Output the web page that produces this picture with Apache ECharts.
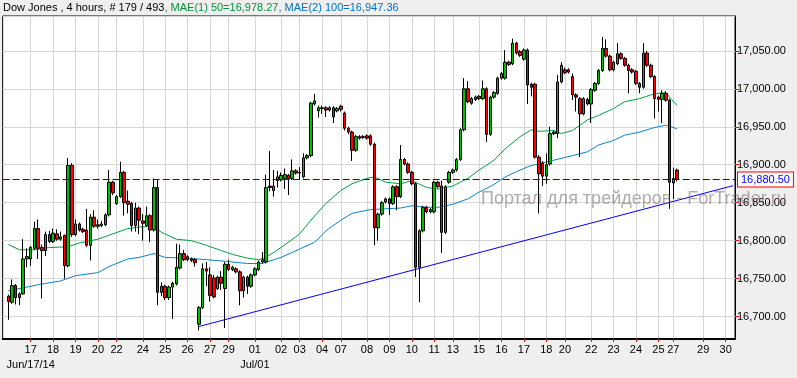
<!DOCTYPE html>
<html><head><meta charset="utf-8">
<script src="https://cdn.jsdelivr.net/npm/echarts@6/dist/echarts.min.js"></script>
<style>html,body{margin:0;padding:0;background:#efefef}#c{width:797px;height:378px}</style>
</head><body><div id="c"></div>
<script>
// ---- data ----
const instrument = 'Dow Jones , 4 hours, # 179 / 493';
const ma1Label = 'MAE(1) 50';
const ma1Last = 16978.27;
const ma2Label = 'MAE(2) 100';
const ma2Last = 16947.36;
const watermark = 'Портал для трейдеров - ForTrader.ru';
const slotCount = 196;
const firstBarSlot = 1;

const opens = [16727,16719,16741,16725,16730,16776,16776,16790,16816,16791,16787,16808,16799,16809,16802,16807,16767,16899,16808,16822,16815,16814,16794,16831,16819,16820,16821,16834,16877,16849,16858,16890,16852,16849,16820,16843,16826,16820,16833,16814,16870,16732,16740,16725,16739,16743,16764,16783,16779,16776,16775,16690,16712,16763,16755,16751,16737,16752,16737,16769,16762,16763,16759,16734,16752,16740,16755,16762,16772,16772,16872,16866,16879,16880,16882,16886,16882,16892,16889,16884,16909,16912,16980,16971,16974,16975,16972,16975,16971,16977,16968,16948,16943,16919,16937,16936,16938,16938,16927,16817,16835,16851,16855,16849,16871,16858,16907,16901,16890,16875,16765,16813,16844,16838,16838,16877,16872,16811,16877,16890,16893,16907,16946,17000,16981,16986,16990,16987,17000,16940,16989,16994,17014,17014,17035,17033,17060,17049,17039,17051,17006,17006,16910,16902,16885,16901,16941,16941,17009,17025,17025,17016,16992,16987,16967,16986,16980,16998,17007,17024,17053,17043,17025,17033,17046,17040,17031,17025,17023,17007,17002,17047,17031,17016,16989,16986,16994,16985,16876,16893];
const closes = [16720,16741,16725,16730,16776,16779,16791,16816,16790,16787,16808,16799,16810,16802,16805,16767,16899,16808,16822,16814,16812,16794,16831,16819,16821,16822,16834,16877,16863,16858,16890,16850,16848,16820,16843,16827,16823,16833,16814,16870,16732,16740,16725,16739,16744,16765,16783,16775,16775,16774,16771,16712,16763,16760,16728,16726,16752,16744,16769,16762,16765,16759,16734,16752,16740,16755,16763,16772,16775,16870,16870,16872,16884,16886,16887,16882,16892,16889,16890,16909,16912,16981,16984,16975,16975,16972,16975,16963,16974,16973,16948,16943,16919,16937,16935,16937,16935,16927,16817,16835,16850,16855,16849,16871,16858,16907,16901,16890,16875,16765,16813,16844,16838,16841,16877,16871,16811,16871,16890,16893,16907,16946,17000,16983,16987,16989,16987,17000,16940,16989,16995,17014,17020,17035,17032,17060,17047,17044,17051,17005,17002,16910,16888,16885,16900,16941,16943,17009,17031,17021,17022,16992,16989,16967,16987,16980,16999,17007,17024,17053,17043,17025,17035,17046,17040,17031,17024,17022,17007,17002,17047,17031,17016,16987,16986,16994,16985,16877,16882,16880.5];
const lows = [16696,16717,16716,16715,16729,16765,16767,16788,16776,16724,16780,16797,16797,16800,16800,16750,16765,16805,16806,16812,16810,16792,16774,16817,16816,16818,16819,16832,16860,16847,16856,16833,16836,16812,16812,16809,16800,16818,16798,16812,16715,16727,16722,16722,16697,16741,16762,16773,16773,16772,16766,16682,16710,16740,16720,16724,16735,16735,16685,16760,16760,16757,16715,16725,16730,16738,16753,16760,16770,16770,16865,16858,16870,16878,16868,16860,16880,16887,16880,16882,16907,16910,16978,16962,16967,16963,16970,16955,16969,16970,16945,16940,16905,16917,16933,16934,16933,16925,16794,16800,16833,16849,16834,16847,16840,16856,16899,16888,16873,16752,16719,16811,16836,16836,16836,16869,16784,16809,16875,16888,16891,16905,16944,16981,16979,16984,16985,16985,16930,16938,16987,16992,17012,17012,17030,17031,17045,17042,17037,16980,16990,16908,16836,16872,16875,16899,16939,16935,17007,17019,17020,16985,16970,16910,16965,16978,16955,16996,17005,17022,17041,17023,17023,17031,17038,17029,16994,17020,17005,16994,17000,17029,17014,16961,16970,16955,16983,16842,16855,16878];
const highs = [16729,16749,16743,16732,16802,16790,16793,16825,16828,16795,16812,16813,16816,16815,16812,16808,16909,16902,16828,16824,16817,16842,16835,16840,16828,16826,16836,16893,16879,16860,16904,16892,16866,16851,16850,16845,16835,16845,16835,16882,16880,16745,16742,16741,16746,16796,16795,16788,16781,16778,16777,16714,16770,16772,16765,16755,16754,16760,16772,16775,16767,16765,16761,16754,16754,16757,16765,16774,16785,16887,16918,16893,16892,16890,16895,16888,16907,16894,16897,16915,16914,16983,16993,16978,16978,16977,16977,16977,16976,16979,16970,16950,16945,16939,16939,16939,16940,16940,16929,16837,16852,16857,16857,16873,16873,16926,16909,16903,16892,16877,16815,16846,16846,16843,16879,16879,16879,16873,16892,16895,16909,16948,17014,17010,16989,16991,16992,17011,17002,16991,16997,17016,17022,17051,17037,17066,17062,17051,17053,17053,17008,17008,16913,16905,16915,16950,16945,17018,17035,17028,17027,17020,16994,16989,16989,16988,17001,17009,17026,17068,17065,17045,17037,17060,17048,17042,17033,17027,17025,17009,17060,17050,17033,17018,16991,16998,16997,16987,16896,16895];

const ma50 = [[1,16795],[4,16788],[8,16788],[12,16791],[17,16792],[20,16797],[25,16802],[29,16809],[33,16816],[36,16818],[40,16819],[42,16811],[46,16802],[50,16800],[54,16794],[58,16787],[61,16782],[65,16777],[68,16775],[70,16778],[74,16791],[79,16809],[82,16827],[86,16849],[90,16866],[93,16875],[97,16882],[99,16884],[102,16877],[106,16875],[109,16879],[113,16870],[116,16868],[120,16872],[124,16882],[127,16893],[131,16906],[134,16921],[138,16937],[141,16946],[143,16944],[147,16945],[149,16941],[152,16945],[156,16959],[159,16965],[163,16974],[166,16983],[170,16987],[173,16992],[175,16994],[177,16995],[178,16989],[180,16978]];
const ma100 = [[1,16734],[6,16739],[10,16743],[15,16747],[19,16754],[25,16758],[28,16766],[33,16776],[36,16778],[40,16783],[43,16778],[49,16777],[54,16775],[59,16773],[65,16770],[69,16770],[74,16778],[79,16789],[83,16798],[86,16813],[90,16827],[93,16836],[98,16841],[102,16842],[106,16843],[109,16846],[113,16844],[116,16844],[120,16848],[124,16855],[127,16864],[131,16874],[134,16884],[138,16893],[141,16899],[143,16901],[147,16906],[152,16912],[156,16917],[159,16926],[163,16932],[166,16939],[170,16943],[174,16949],[177,16952],[178,16951],[180,16947]];
const trendLine = [[52,16687],[195,16872.5]];

const dayTickIndex = [7,13,19,25,30,37,43,49,55,60,67,74,79,85,90,97,103,109,115,120,127,133,139,145,150,157,163,169,175,179,187,193];
const dayTickLabel = ['17','18','19','20','22','24','25','26','27','29','01','02','03','04','07','08','09','10','11','13','15','16','17','18','20','22','23','24','25','27','29','30'];
const monthTickIndex = [7,67];
const monthTickLabel = ['Jun/17/14','Jul/01'];

// ---- build ----
const categories = new Array(slotCount).fill('');
categories[0] = ' '; // invisible spacer label so that the first real label is not treated as the axis min label
dayTickIndex.forEach((idx, k) => { categories[idx] = dayTickLabel[k]; });
const monthCategories = new Array(slotCount).fill('');
monthTickIndex.forEach((idx, k) => { monthCategories[idx] = monthTickLabel[k]; });

const candleData = [];
for (let i = 0; i < firstBarSlot; i++) candleData.push('-');
for (let i = 0; i < opens.length; i++) candleData.push([opens[i], closes[i], lows[i], highs[i]]);
const lastClose = closes[closes.length - 1];

const fmt = v => v.toLocaleString('en-US', {minimumFractionDigits: 2, maximumFractionDigits: 2});
const hasLabel = (i, v) => v !== '';
const isTick = (i, v) => v.trim() !== '';
const FONT = '"Liberation Sans", Arial, sans-serif';

const chart = echarts.init(document.getElementById('c'), null, {renderer: 'canvas'});
chart.setOption({
  animation: false,
  backgroundColor: '#efefef',
  textStyle: {fontFamily: FONT},
  grid: {left: 2, top: 16, width: 733, height: 323, show: true, backgroundColor: '#ffffff', borderColor: '#000', borderWidth: 1},
  xAxis: [{
    type: 'category', data: categories, boundaryGap: true,
    axisLine: {show: true, lineStyle: {color: '#000', width: 2}},
    axisTick: {show: true, interval: isTick, alignWithLabel: true, length: 3, lineStyle: {color: '#ff0000'}},
    axisLabel: {interval: hasLabel, color: '#000', fontSize: 11, lineHeight: 12, fontFamily: FONT, margin: 5,
      showMinLabel: true, showMaxLabel: true, hideOverlap: false},
    splitLine: {show: true, interval: isTick, alignWithLabel: true, lineStyle: {color: '#d6d6d6', width: 1}}
  }, {
    type: 'category', data: monthCategories, boundaryGap: true, position: 'bottom', gridIndex: 0,
    axisLine: {show: false}, axisTick: {show: false}, splitLine: {show: false},
    axisLabel: {interval: hasLabel, color: '#000', fontSize: 11, lineHeight: 12, fontFamily: FONT, margin: 20,
      showMinLabel: true, showMaxLabel: true, hideOverlap: false}
  }],
  yAxis: {
    type: 'value', position: 'right', scale: true,
    min: 16670.6, max: 17095.8, minInterval: 50, maxInterval: 50,
    axisLine: {show: true, lineStyle: {color: '#000', width: 1}},
    axisTick: {show: true, length: 4, lineStyle: {color: '#ff0000'}},
    axisLabel: {color: '#000', fontSize: 11, fontFamily: FONT, margin: 2, showMinLabel: false, showMaxLabel: false, formatter: fmt},
    splitLine: {show: true, lineStyle: {color: '#d6d6d6', width: 1}}
  },
  series: [
    {type: 'line', data: ma50, showSymbol: false, symbol: 'none', lineStyle: {color: '#00a040', width: 1}, z: 3, silent: true},
    {type: 'line', data: ma100, showSymbol: false, symbol: 'none', lineStyle: {color: '#0a84c8', width: 1}, z: 3, silent: true},
    {type: 'line', data: trendLine, showSymbol: false, symbol: 'none', lineStyle: {color: '#0000ff', width: 1}, z: 3, silent: true},
    {
      type: 'candlestick', data: candleData, barWidth: 3, z: 4, silent: true,
      itemStyle: {color: '#00c000', color0: '#ff0000', borderColor: '#000', borderColor0: '#000', borderWidth: 1},
      markLine: {
        silent: true, symbol: 'none', animation: false,
        lineStyle: {color: '#0000ff', type: [7, 3], width: 1},
        label: {position: 'end', distance: 3, formatter: () => fmt(lastClose), color: '#0000ff', fontSize: 11, fontFamily: FONT,
          backgroundColor: '#fff', borderColor: '#ff0000', borderWidth: 1, padding: [2, 3, 1, 3]},
        data: [{yAxis: lastClose}]
      }
    }
  ],
  graphic: [
    {type: 'text', left: 3, top: 2, z: 100, style: {
      text: '{k|' + instrument + '}{g|, ' + ma1Label + '=' + fmt(ma1Last) + '}{b|, ' + ma2Label + '=' + fmt(ma2Last) + '}',
      rich: {
        k: {fill: '#000', fontSize: 11, fontFamily: FONT},
        g: {fill: '#00953c', fontSize: 11, fontFamily: FONT},
        b: {fill: '#0070c0', fontSize: 11, fontFamily: FONT}
      }
    }},
    {type: 'text', left: 481, top: 190, z: 100, silent: true, style: {
      text: watermark, fill: 'rgba(120,100,100,0.55)', font: '18px ' + FONT
    }}
  ]
});
</script></body></html>
